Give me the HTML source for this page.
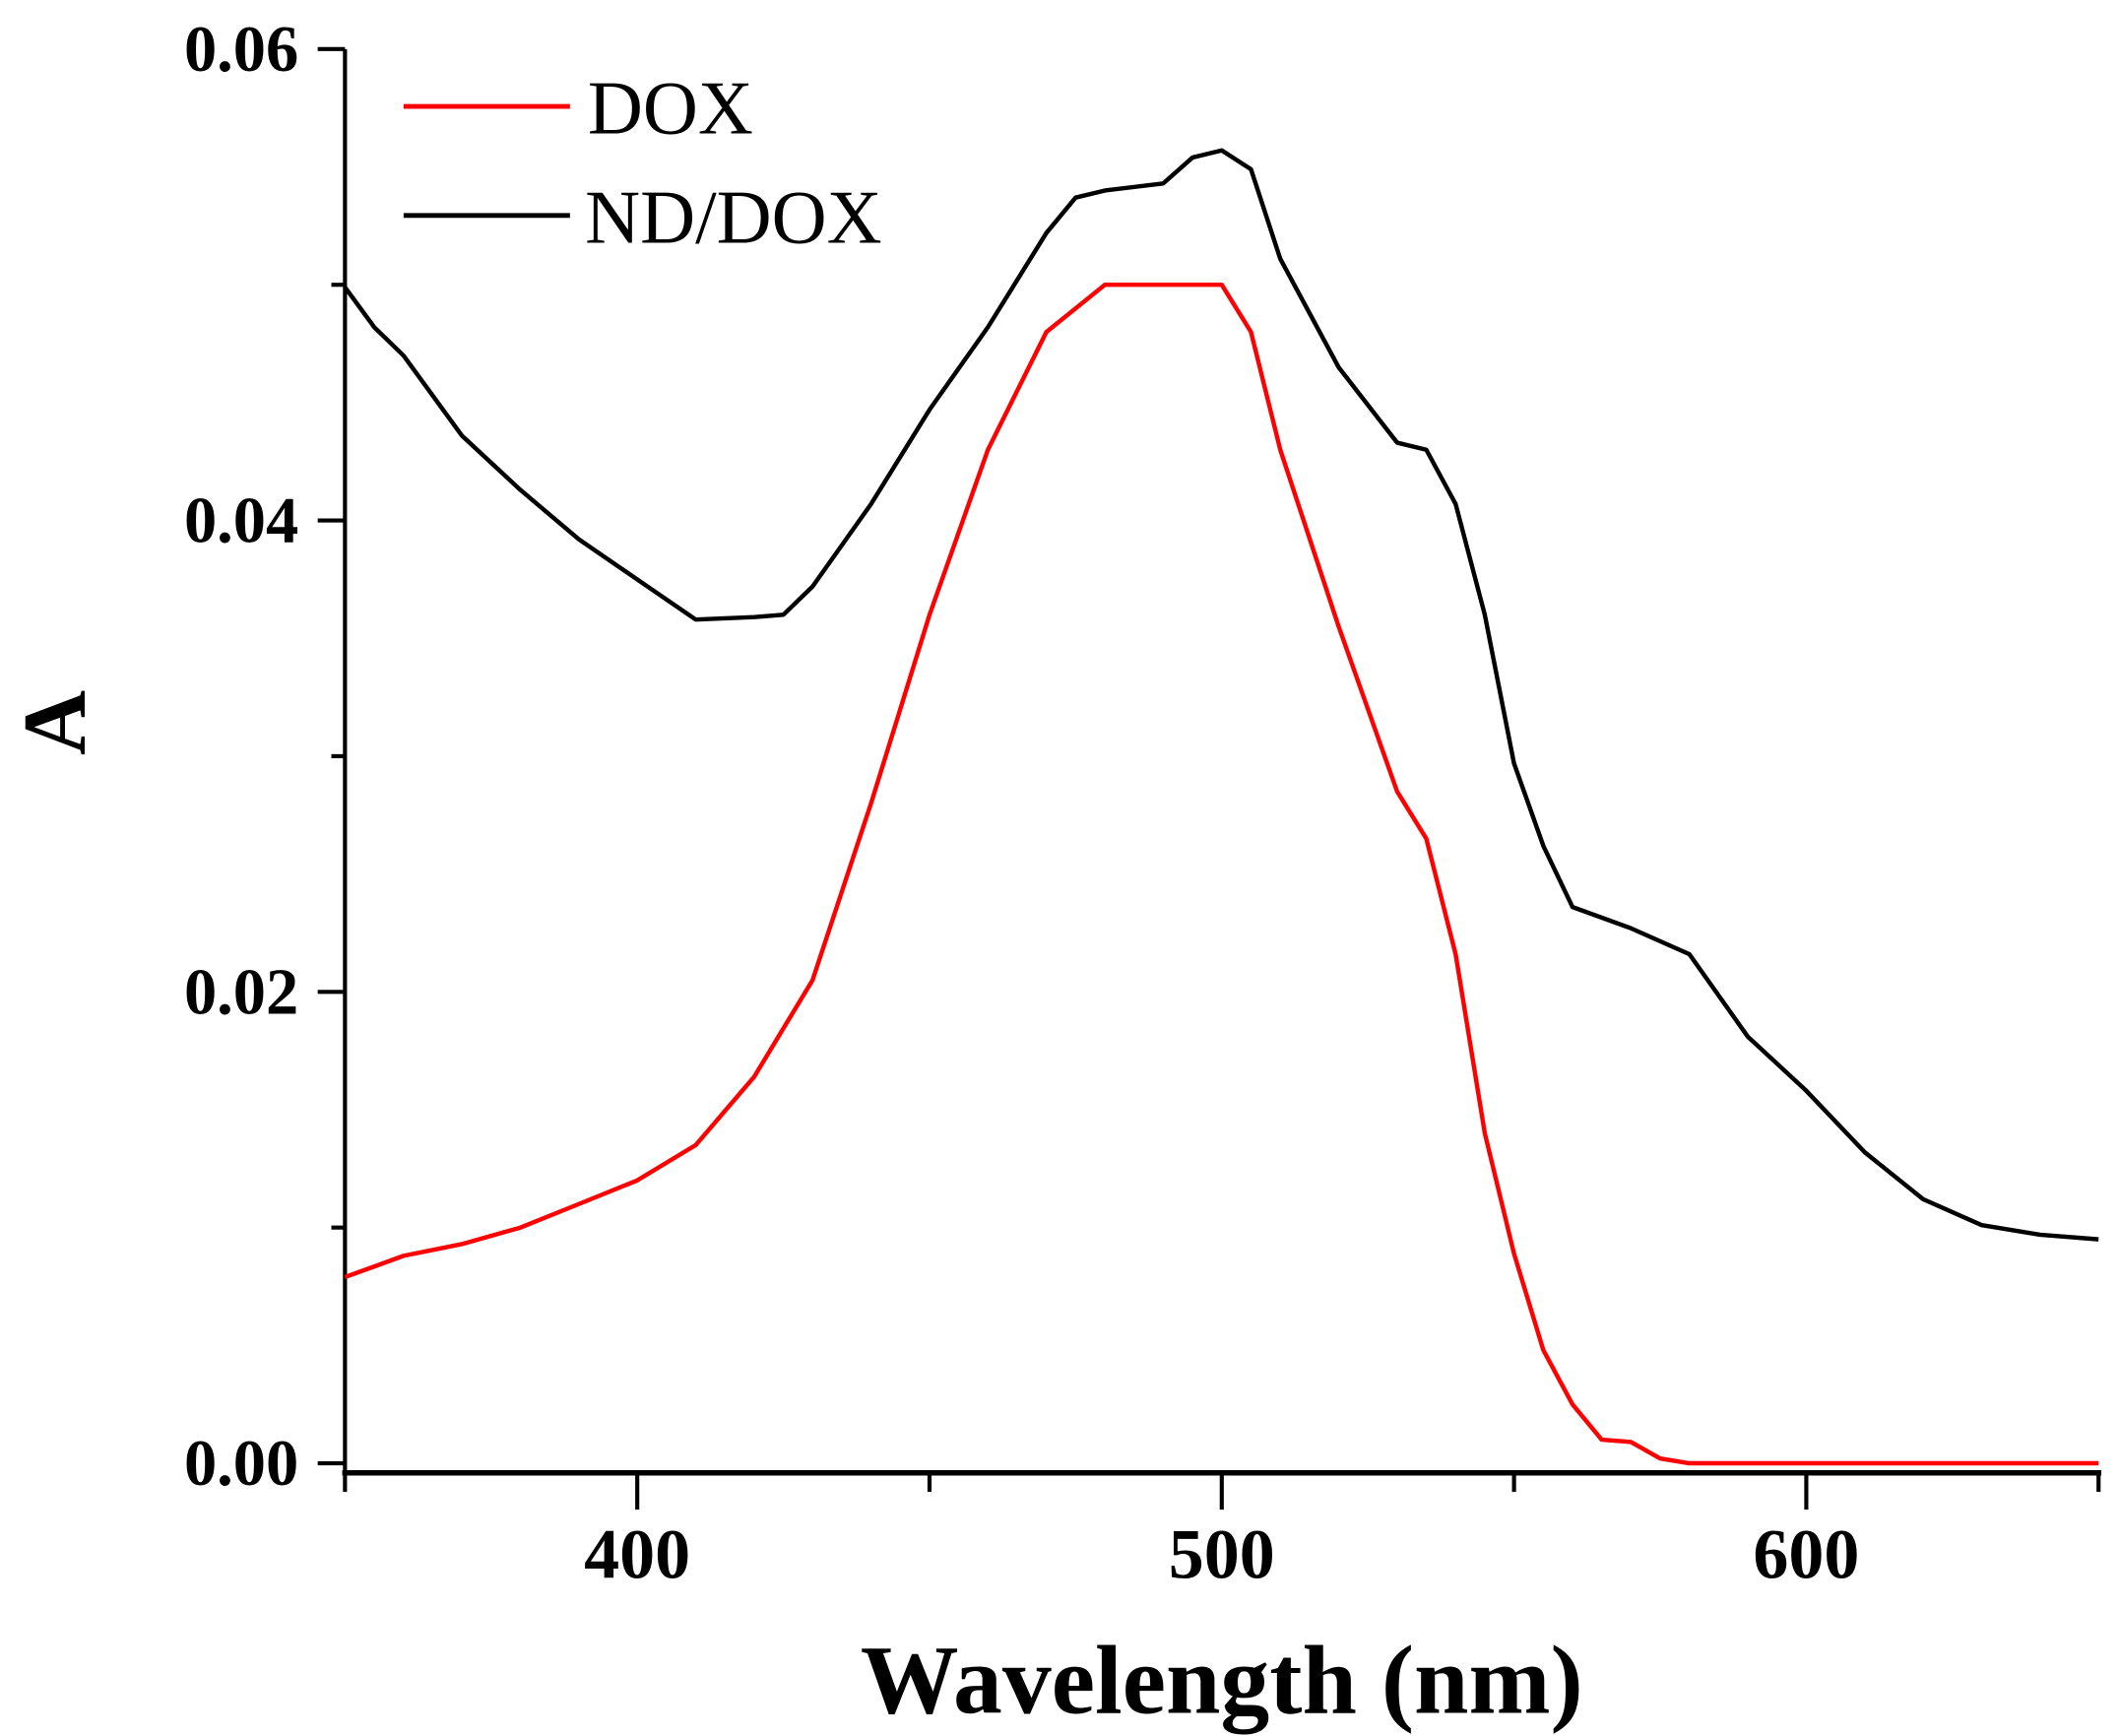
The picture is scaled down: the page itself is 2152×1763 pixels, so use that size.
<!DOCTYPE html>
<html><head><meta charset="utf-8"><style>
html,body{margin:0;padding:0;background:#fff;}
svg{display:block;}
text{font-family:"Liberation Serif",serif;fill:#000;}
</style></head><body>
<svg id="chart" width="2152" height="1763" viewBox="0 0 1554 1273" preserveAspectRatio="none" xmlns="http://www.w3.org/2000/svg">
<g id="axes"></g>
<g id="series"></g>
<g>
<line x1="296" y1="78" x2="418" y2="78" stroke="#ff0000" stroke-width="3.5"/>
<text x="431" y="98" font-size="56">DOX</text>
<line x1="296" y1="158" x2="418" y2="158" stroke="#000" stroke-width="3.5"/>
<text x="429" y="178" font-size="56">ND/DOX</text>
</g>
<text x="896" y="1256" font-size="72" font-weight="bold" text-anchor="middle">Wavelength (nm)</text>
<text transform="translate(62,530) rotate(-90)" font-size="66" font-weight="bold" text-anchor="middle">A</text>
</svg>
<script>
const doxX=[350,360,370,380,390,400,410,420,430,440,450,460,470,480,490,500,505,510,520,530,535,540,545,550,555,560,565,570,575,580,600,620,650];
const doxY=[0.0079,0.0088,0.0093,0.010,0.011,0.012,0.0135,0.0164,0.0205,0.028,0.036,0.043,0.048,0.050,0.050,0.050,0.048,0.043,0.0355,0.0285,0.0265,0.0216,0.014,0.0089,0.0048,0.0025,0.001,0.0009,0.0002,0,0,0,0];
const ndX=[350,355,360,370,380,390,400,410,420,425,430,440,450,460,470,475,480,490,495,500,505,510,520,530,535,540,545,550,555,560,570,580,590,600,610,620,630,640,650];
const ndY=[0.0499,0.0482,0.047,0.0436,0.0413,0.0392,0.0375,0.0358,0.0359,0.036,0.0372,0.0407,0.0447,0.0482,0.0522,0.0537,0.054,0.0543,0.0554,0.0557,0.0549,0.0511,0.0465,0.0433,0.043,0.0407,0.036,0.0297,0.0262,0.0236,0.0227,0.0216,0.0181,0.0158,0.0132,0.0112,0.0101,0.0097,0.0095];
const yTicks=["0.00","0.02","0.04","0.06"];
const xTicks=["400","500","600"];
const NS="http://www.w3.org/2000/svg";
const xs=v=>253+(v-350)*4.2867;
const ys=v=>1073-v/0.06*1037;
function mk(tag,attrs,parent){const e=document.createElementNS(NS,tag);for(const k in attrs)e.setAttribute(k,attrs[k]);parent.appendChild(e);return e;}
const ax=document.getElementById('axes');
let e=mk('line',{x1:253,y1:36,x2:253,y2:1082,stroke:'#000','stroke-width':3},ax);


e=mk('line',{x1:251,y1:1080,x2:1541,y2:1080,stroke:'#000','stroke-width':4},ax);


for(let i=0;i<=6;i++){const v=i*0.01;const major=i%2===0;
 e=mk('line',{x1:major?233:243,y1:ys(v),x2:253,y2:ys(v),stroke:'#000','stroke-width':3},ax);
 
 }
yTicks.forEach(t=>{e=mk('text',{x:219,y:ys(parseFloat(t))+16,'font-size':48,'font-weight':'bold','text-anchor':'end'},ax);e.textContent=t;
 
 });
for(let v=350;v<=650;v+=50){const major=v%100===0;
 e=mk('line',{x1:xs(v),y1:1080,x2:xs(v),y2:major?1107:1094,stroke:'#000','stroke-width':3},ax);
 
 }
xTicks.forEach(t=>{e=mk('text',{x:xs(+t),y:1157,'font-size':52,'font-weight':'bold','text-anchor':'middle'},ax);e.textContent=t;
 
 });
const sg=document.getElementById('series');
function line(X,Y){return X.map((x,i)=>xs(x).toFixed(1)+','+ys(Y[i]).toFixed(1)).join(' ');}
e=mk('polyline',{points:line(ndX,ndY),fill:'none',stroke:'#000','stroke-width':3.2,'stroke-linejoin':'round'},sg);


e=mk('polyline',{points:line(doxX,doxY),fill:'none',stroke:'#ff0000','stroke-width':3.2,'stroke-linejoin':'round'},sg);


</script>
</body></html>
